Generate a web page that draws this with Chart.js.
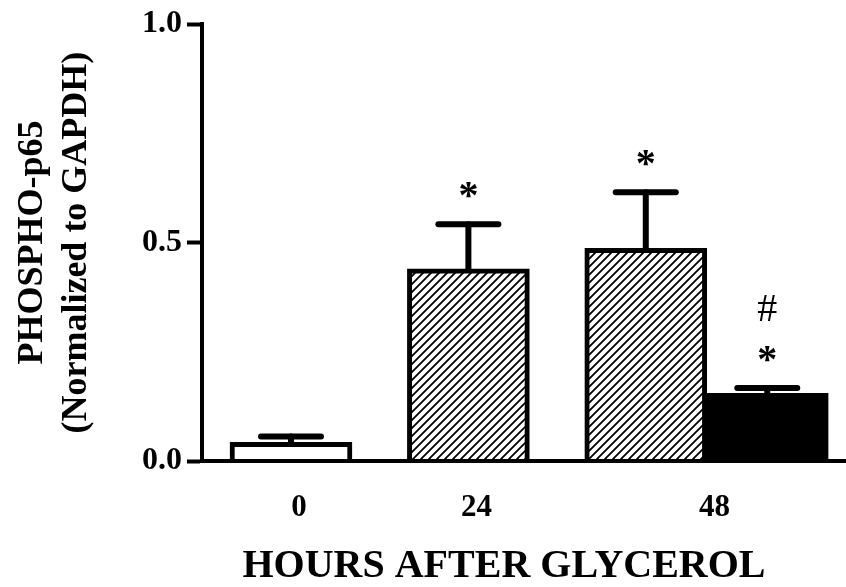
<!DOCTYPE html>
<html>
<head>
<meta charset="utf-8">
<script src="https://cdn.jsdelivr.net/npm/chart.js@4/dist/chart.umd.min.js"></script>
<style>
  html, body { margin: 0; padding: 0; background: #fff; }
  #wrap { width: 846px; height: 587px; }
</style>
</head>
<body>
<div id="wrap"><canvas id="c" width="846" height="587"></canvas></div>
<script>
// ---- data ----
const groupLabels = ['0', '24', '48'];          // x tick labels (hours after glycerol)
const barGroup    = [0, 1, 2, 2];               // group index of each bar
const barValues   = [0.043, 0.44, 0.487, 0.155]; // mean phospho-p65
const barErrors   = [0.013, 0.102, 0.128, 0.012]; // SEM (upper only)
const markStar    = ['', '*', '*', '*'];
const markHash    = ['', '', '', '#'];
const yTicks      = [0, 0.5, 1.0];

// ---- styles / layout ----
const FONT = '"Liberation Serif", "Times New Roman", serif';
const GAP = 0.46; // gap between groups, in bar widths

// hatch pattern
function makeHatch() {
  const s = 8;
  const c = document.createElement('canvas');
  c.width = s; c.height = s;
  const g = c.getContext('2d');
  g.fillStyle = '#fff';
  g.fillRect(0, 0, s, s);
  g.strokeStyle = '#000';
  g.lineWidth = 1.8;
  g.beginPath();
  g.moveTo(-2, s + 2); g.lineTo(s + 2, -2);
  g.moveTo(-2 - s, s + 2); g.lineTo(2, -2);
  g.moveTo(s - 2, s + 2); g.lineTo(2 * s + 2, -2);
  g.stroke();
  return g.createPattern(c, 'repeat');
}
const hatch = makeHatch();
const barFills = ['#ffffff', hatch, hatch, '#000000'];

// bar x positions in bar-width units, built from group membership
const barX = [];
let cursor = 0;
barGroup.forEach((g, i) => {
  if (i > 0) cursor += (g !== barGroup[i - 1]) ? 1 + GAP : 1;
  barX.push(cursor);
});
const groupCenters = groupLabels.map((_, gi) => {
  const xs = barX.filter((_, i) => barGroup[i] === gi);
  return xs.reduce((a, b) => a + b, 0) / xs.length;
});

const errorBarPlugin = {
  id: 'errorBars',
  afterDatasetsDraw(chart) {
    const ctx = chart.ctx;
    const meta = chart.getDatasetMeta(0);
    const ys = chart.scales.y;
    ctx.save();
    ctx.strokeStyle = '#000';
    ctx.lineCap = 'round';
    meta.data.forEach((el, i) => {
      const top = ys.getPixelForValue(barValues[i] + barErrors[i]);
      ctx.lineWidth = 6;
      ctx.beginPath();
      ctx.moveTo(el.x, el.y);
      ctx.lineTo(el.x, top);
      ctx.stroke();
      ctx.beginPath();
      ctx.moveTo(el.x - 30, top);
      ctx.lineTo(el.x + 30, top);
      ctx.stroke();
      // significance marks
      ctx.fillStyle = '#000';
      ctx.textAlign = 'center';
      ctx.textBaseline = 'alphabetic';
      const drawCentered = (txt, font, cy) => {
        if (!txt) return;
        ctx.font = font;
        const m = ctx.measureText(txt);
        const a = m.actualBoundingBoxAscent, d = m.actualBoundingBoxDescent;
        ctx.fillText(txt, el.x, cy + (a - d) / 2);
      };
      drawCentered(markStar[i], 'bold 40px ' + FONT, top - 34);
      drawCentered(markHash[i], '40px ' + FONT, top - 80);
    });
    ctx.restore();
  }
};

new Chart(document.getElementById('c'), {
  type: 'bar',
  data: {
    datasets: [{
      data: barX.map((x, i) => ({ x: x, y: barValues[i] })),
      backgroundColor: barFills,
      borderColor: '#000',
      borderWidth: 5,
      barThickness: 122
    }]
  },
  options: {
    responsive: false,
    animation: false,
    devicePixelRatio: 1,
    layout: { padding: { top: 22, right: 0, bottom: 0, left: 0 } },
    plugins: { legend: { display: false }, tooltip: { enabled: false } },
    scales: {
      x: {
        type: 'linear',
        min: -0.7325,
        max: 4.568,
        offset: false,
        grid: { display: false, drawTicks: false },
        border: { display: true, color: '#000', width: 4, z: 1 },
        afterBuildTicks(scale) { scale.ticks = groupCenters.map(v => ({ value: v })); },
        afterFit(scale) { scale.height = 126; },
        ticks: {
          color: '#000',
          padding: 28,
          labelOffset: 8,
          font: { family: FONT, size: 31, weight: 'bold' },
          callback: (v, i) => groupLabels[i]
        },
        title: {
          display: true,
          text: 'HOURS AFTER GLYCEROL\u00A0\u00A0\u00A0\u00A0',
          color: '#000',
          font: { family: FONT, size: 40, weight: 'bold', lineHeight: 1.0 },
          padding: { top: 0, bottom: 0 }
        }
      },
      y: {
        min: 0,
        max: 1.0,
        afterBuildTicks(scale) { scale.ticks = yTicks.map(v => ({ value: v })); },
        afterFit(scale) { scale.width = 202; },
        grid: { display: true, drawOnChartArea: false, drawTicks: true, tickLength: 15, tickWidth: 4, tickColor: '#000', color: '#000' },
        border: { display: true, color: '#000', width: 4, z: 1 },
        ticks: {
          color: '#000',
          padding: 5,
          font: { family: FONT, size: 32, weight: 'bold' },
          callback: v => v.toFixed(1)
        },
        title: {
          display: true,
          text: ['PHOSPHO-p65', '(Normalized to GAPDH)'],
          color: '#000',
          font: { family: FONT, size: 36, weight: 'bold', lineHeight: 1.22 },
          padding: { top: 11, bottom: 0 }
        }
      }
    }
  },
  plugins: [errorBarPlugin]
});
</script>
</body>
</html>
